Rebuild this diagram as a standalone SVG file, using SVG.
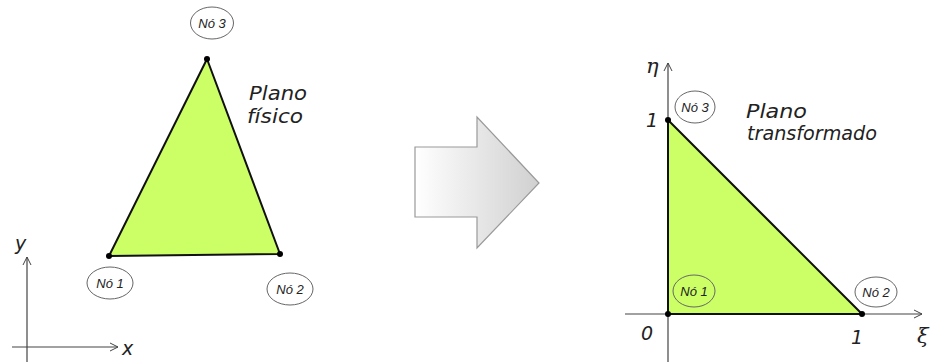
<svg xmlns="http://www.w3.org/2000/svg" width="934" height="362" viewBox="0 0 934 362">
<defs>
<linearGradient id="ag" x1="0" y1="0" x2="1" y2="0">
<stop offset="0" stop-color="#ffffff"/>
<stop offset="1" stop-color="#d0d0d0"/>
</linearGradient>
<marker id="ah" viewBox="0 0 10 10" refX="9" refY="5" markerWidth="10" markerHeight="10" markerUnits="userSpaceOnUse" orient="auto">
<path d="M1,1 L9,5 L1,9" fill="none" stroke="#444" stroke-width="1"/>
</marker>
</defs>
<style>
.tri{fill:#ccff66;stroke:#111;stroke-width:2;stroke-linejoin:round}
.dot{fill:#000}
.axis{stroke:#444;stroke-width:1.2;fill:none}
.nc{fill:none;stroke:#666;stroke-width:1}
.nt{font-family:"Liberation Sans",sans-serif;font-size:13px;font-style:italic;fill:#222;text-anchor:middle}
.lab{font-family:"DejaVu Sans",sans-serif;font-size:19px;font-style:italic;fill:#222}
.ax{font-family:"DejaVu Serif",serif;font-size:21px;font-style:italic;fill:#222}
</style>
<g id="axes-left">
<line class="axis" x1="27" y1="362" x2="27" y2="257" marker-end="url(#ah)"/>
<line class="axis" x1="12" y1="347" x2="118" y2="347" marker-end="url(#ah)"/>
<text class="lab" x="15" y="250" font-size="18">y</text>
<text class="lab" x="122" y="355" font-size="18">x</text>
</g>
<g id="physical-triangle">
<polygon class="tri" points="207,59 109,256 280,254"/>
<circle class="dot" cx="207" cy="59" r="3"/>
<circle class="dot" cx="109" cy="256" r="3"/>
<circle class="dot" cx="280" cy="254" r="3"/>
<text class="lab" x="249" y="100" textLength="58" lengthAdjust="spacingAndGlyphs">Plano</text>
<text class="lab" x="247" y="123" textLength="56" lengthAdjust="spacingAndGlyphs">físico</text>
</g>
<g id="node1-left"><ellipse class="nc" cx="110" cy="283" rx="23" ry="16"/><text class="nt" x="110" y="288">Nó 1</text></g>
<g id="node2-left"><ellipse class="nc" cx="290" cy="289" rx="23" ry="16"/><text class="nt" x="290" y="294">Nó 2</text></g>
<g id="node3-left"><ellipse class="nc" cx="212" cy="23" rx="21.5" ry="16"/><text class="nt" x="212" y="28">Nó 3</text></g>
<g id="big-arrow">
<polygon points="415,147 477,147 477,117 539,183 477,248 477,217 415,217" fill="url(#ag)" stroke="#999" stroke-width="1.2"/>
</g>
<g id="axes-right">
<line class="axis" x1="668" y1="362" x2="668" y2="63" marker-end="url(#ah)"/>
<line class="axis" x1="625" y1="314" x2="922" y2="314" marker-end="url(#ah)"/>
<text class="ax" x="646" y="73">η</text>
<text class="ax" x="917" y="343">ξ</text>
<text class="lab" x="646" y="127" font-size="17">1</text>
<text class="lab" x="641" y="340" font-size="17">0</text>
<text class="lab" x="851" y="344" font-size="17">1</text>
</g>
<g id="transformed-triangle">
<polygon class="tri" points="668,120 668,314 862,314"/>
<circle class="dot" cx="668" cy="120" r="3"/>
<circle class="dot" cx="668" cy="314" r="3"/>
<circle class="dot" cx="862" cy="314" r="3"/>
<text class="lab" x="746" y="118" textLength="61" lengthAdjust="spacingAndGlyphs">Plano</text>
<text class="lab" x="747" y="140" textLength="130" lengthAdjust="spacingAndGlyphs">transformado</text>
</g>
<g id="node1-right"><ellipse class="nc" cx="694" cy="291" rx="21" ry="16"/><text class="nt" x="694" y="296">Nó 1</text></g>
<g id="node2-right"><ellipse class="nc" cx="876" cy="292" rx="21" ry="15"/><text class="nt" x="876" y="297">Nó 2</text></g>
<g id="node3-right"><ellipse class="nc" cx="695" cy="107" rx="20" ry="16"/><text class="nt" x="695" y="112">Nó 3</text></g>
</svg>
